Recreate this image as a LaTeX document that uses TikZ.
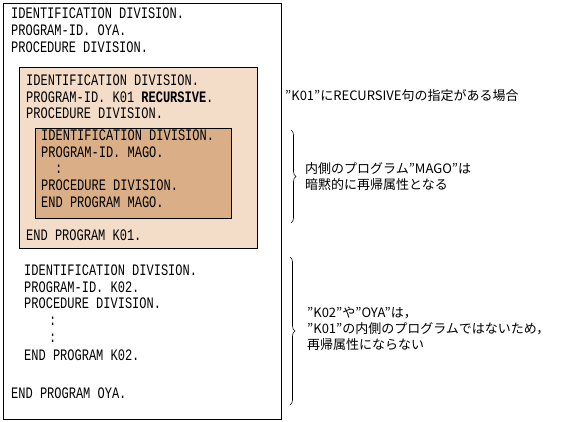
\documentclass[tikz,border=0pt]{standalone}
\usepackage{fontspec}
\usetikzlibrary{decorations.pathreplacing}
\newfontfamily\codefont[FakeStretch=0.75]{Liberation Mono}
\newfontfamily\jpfont{Noto Sans CJK JP}
\definecolor{lightbox}{RGB}{243,221,200}
\definecolor{darkbox}{RGB}{218,175,136}
\tikzset{
  code/.style={anchor=base west, inner sep=0pt, font=\codefont\fontsize{16}{18}\selectfont},
  note/.style={anchor=base west, inner sep=0pt, font=\jpfont\fontsize{13}{15}\selectfont},
  frame/.style={draw=black, line width=0.8pt},
  bracebar/.style={draw=black, line width=0.6pt, decorate, decoration={brace, amplitude=5pt}}
}
\begin{document}
\begin{tikzpicture}[x=1pt, y=-1pt]
\useasboundingbox (0,0) rectangle (588,421);
% boxes
\draw[frame, fill=white] (3,3) rectangle (281,419);
\draw[frame, fill=lightbox] (19,67) rectangle (257,248);
\draw[frame, fill=darkbox] (35,128) rectangle (231,218);
% outer program
\node[code] (o1) at (11,18) {IDENTIFICATION DIVISION.};
\node[code] (o2) at (11,35) {PROGRAM-ID. OYA.};
\node[code] (o3) at (11,52) {PROCEDURE DIVISION.};
% K01
\node[code] (k1) at (26,85) {IDENTIFICATION DIVISION.};
\node[code] (k2) at (26,102) {PROGRAM-ID. K01 \textbf{RECURSIVE}.};
\node[code] (k3) at (26,118) {PROCEDURE DIVISION.};
% MAGO
\node[code] (m1) at (41,140) {IDENTIFICATION DIVISION.};
\node[code] (m2) at (41,157) {PROGRAM-ID. MAGO.};
\node[code] (m3) at (55,173) {:};
\node[code] (m4) at (41,190) {PROCEDURE DIVISION.};
\node[code] (m5) at (41,207) {END PROGRAM MAGO.};
\node[code] (k4) at (26,240) {END PROGRAM K01.};
% K02
\node[code] (p1) at (24,275) {IDENTIFICATION DIVISION.};
\node[code] (p2) at (24,292) {PROGRAM-ID. K02.};
\node[code] (p3) at (24,308) {PROCEDURE DIVISION.};
\node[code] (p4) at (49,325) {:};
\node[code] (p5) at (49,342) {:};
\node[code] (p6) at (24,360) {END PROGRAM K02.};
\node[code] (o4) at (11,398) {END PROGRAM OYA.};
% braces
\draw[bracebar] (291,130) -- (291,223);
\draw[bracebar] (290,257) -- (290,405);
% notes
\node[note] (n1) at (285,100) {”K01”にRECURSIVE句の指定がある場合};
\node[note] (n2) at (305,173) {内側のプログラム”MAGO”は};
\node[note] (n3) at (305,189) {暗黙的に再帰属性となる};
\node[note] (n4) at (307,317) {”K02”や”OYA”は，};
\node[note] (n5) at (307,333) {”K01”の内側のプログラムではないため，};
\node[note] (n6) at (307,349) {再帰属性にならない};
\end{tikzpicture}
\end{document}
